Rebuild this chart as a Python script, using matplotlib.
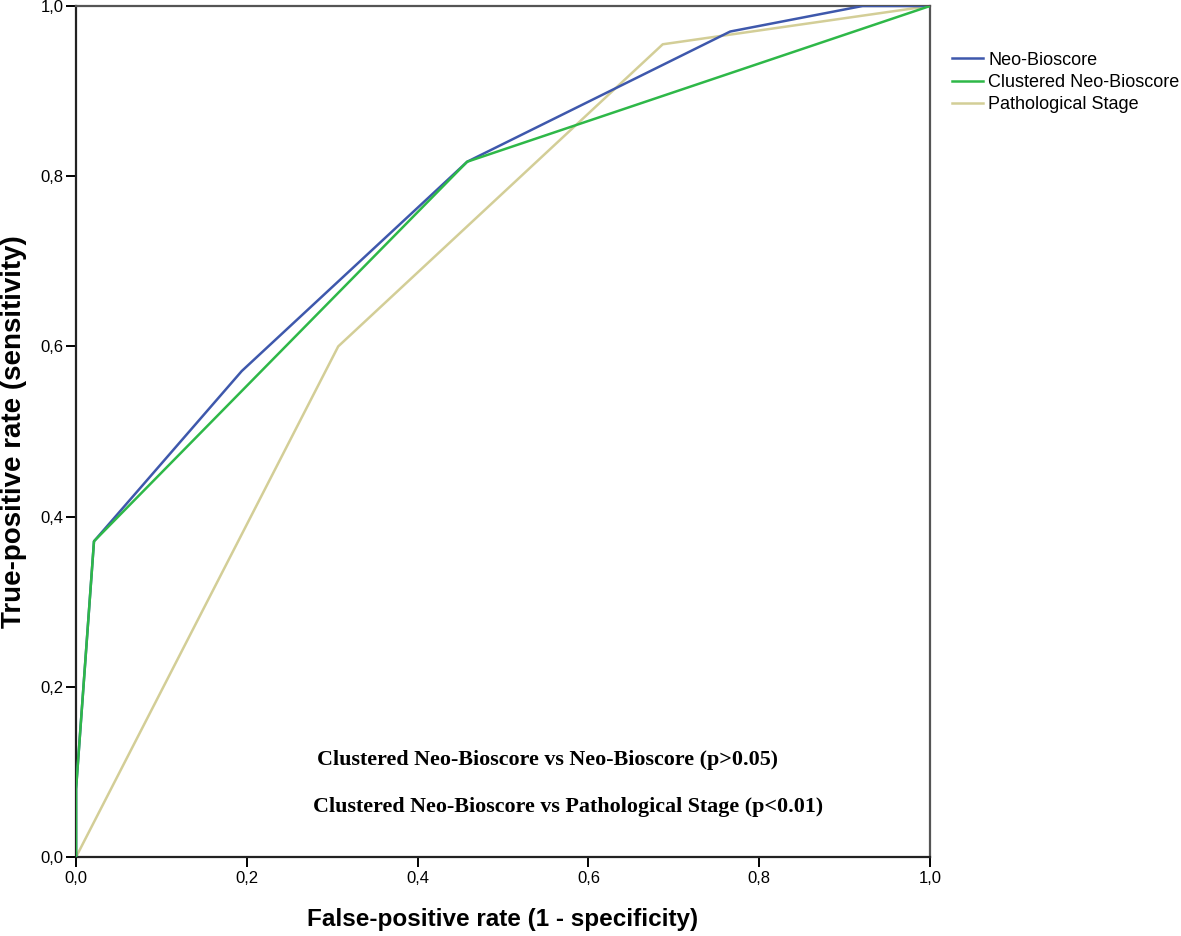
import numpy as np
import matplotlib.pyplot as plt
from matplotlib.ticker import FuncFormatter

# ROC curve points
neo_fpr = [0.0, 0.0, 0.021, 0.194, 0.458, 0.766, 0.921, 1.0]
neo_tpr = [0.0, 0.08, 0.371, 0.571, 0.817, 0.970, 1.0, 1.0]
clu_fpr = [0.0, 0.0, 0.021, 0.458, 1.0]
clu_tpr = [0.0, 0.08, 0.371, 0.817, 1.0]
pat_fpr = [0.0, 0.307, 0.687, 1.0]
pat_tpr = [0.0, 0.600, 0.955, 1.0]
labels = ['Neo-Bioscore', 'Clustered Neo-Bioscore', 'Pathological Stage']
notes = ['Clustered Neo-Bioscore vs Neo-Bioscore (p>0.05)',
         'Clustered Neo-Bioscore vs Pathological Stage (p<0.01)']

fig = plt.figure(figsize=(11.81, 9.36), dpi=100)
ax = fig.add_axes([0.0644, 0.0844, 0.7231, 0.9092])

ax.plot(pat_fpr, pat_tpr, color='#d3ce97', lw=1.8, label=labels[2], zorder=2)
ax.plot(neo_fpr, neo_tpr, color='#3e58ac', lw=1.8, label=labels[0], zorder=3)
ax.plot(clu_fpr, clu_tpr, color='#2eb848', lw=1.8, label=labels[1], zorder=4)

ax.set_xlim(0, 1)
ax.set_ylim(0, 1)
ticks = np.arange(0, 1.01, 0.2)
ax.set_xticks(ticks)
ax.set_yticks(ticks)
fmt = FuncFormatter(lambda v, p: ('%.1f' % v).replace('.', ','))
ax.xaxis.set_major_formatter(fmt)
ax.yaxis.set_major_formatter(fmt)
ax.tick_params(direction='out', length=7, width=1.4, labelsize=12, pad=3)
ax.tick_params(axis='y', pad=2)
for t in ax.get_xticklabels() + ax.get_yticklabels():
    t.set_family('Liberation Sans')

for s in ['left', 'bottom']:
    ax.spines[s].set_linewidth(1.6)
    ax.spines[s].set_color('#222222')
for s in ['top', 'right']:
    ax.spines[s].set_linewidth(1.6)
    ax.spines[s].set_color('#555555')

ax.set_xlabel('False-positive rate (1 - specificity)', fontsize=17.5, fontweight='bold',
              family='Liberation Sans', labelpad=16)
ax.set_ylabel('True-positive rate (sensitivity)', fontsize=20, fontweight='bold',
              family='Liberation Sans', labelpad=10)

ax.text(0.282, 0.114, notes[0], fontsize=15.8, fontweight='bold',
        family='Liberation Serif', va='center', ha='left')
ax.text(0.277, 0.059, notes[1], fontsize=15.8, fontweight='bold',
        family='Liberation Serif', va='center', ha='left')

h, l = ax.get_legend_handles_labels()
order = [1, 2, 0]
ax.legend([h[i] for i in order], [l[i] for i in order], loc='upper left',
          bbox_to_anchor=(1.017, 0.955), frameon=False,
          prop={'family': 'Liberation Sans', 'size': 13},
          handlelength=1.75, handletextpad=0.28, labelspacing=0.3,
          borderaxespad=0)

fig.savefig('out.png', dpi=100)
